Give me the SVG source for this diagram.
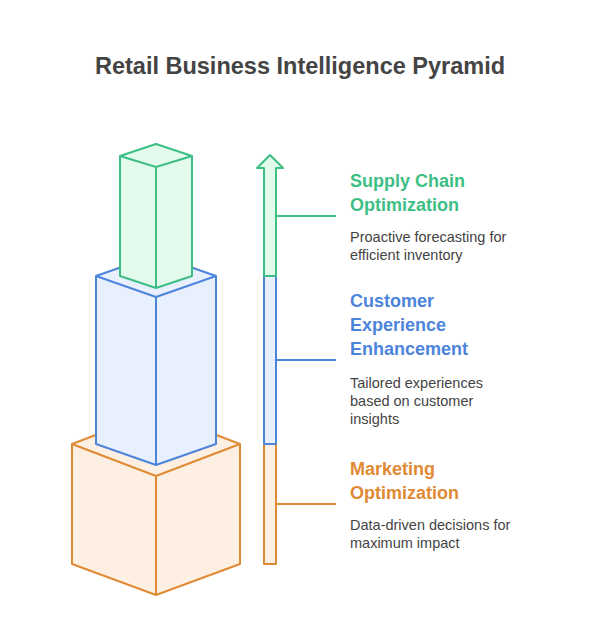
<svg xmlns="http://www.w3.org/2000/svg" width="600" height="631" viewBox="0 0 600 631">
<style>
.g{stroke:#3dbf84;fill:#e3fbec;stroke-width:2;stroke-linejoin:round}
.b{stroke:#4d84db;fill:#e8f0fd;stroke-width:2;stroke-linejoin:round}
.o{stroke:#e08a33;fill:#fdefe1;stroke-width:2;stroke-linejoin:round}
.t{font-family:"Liberation Sans",Arial,sans-serif}
.h{font-size:18px;font-weight:bold}
.d{font-size:14.5px;fill:#444}
</style>
<rect width="600" height="631" fill="#fff"/>
<text class="t" x="300" y="74" text-anchor="middle" font-size="23.5" font-weight="bold" fill="#444">Retail Business Intelligence Pyramid</text>
<g id="base">
<path class="o" d="M72,444 L156,412 L240,444 L240,564 L156,595 L72,564 Z"/>
<path class="o" d="M72,444 L156,476 L240,444 M156,476 L156,595" fill="none"/>
</g>
<g id="middle">
<path class="b" d="M96,276 L156,255 L216,276 L216,444 L156,465 L96,444 Z"/>
<path class="b" d="M96,276 L156,297 L216,276 M156,297 L156,465" fill="none"/>
</g>
<g id="top">
<path class="g" d="M120,156 L156,144 L192,156 L192,276 L156,288 L120,276 Z"/>
<path class="g" d="M120,156 L156,167 L192,156 M156,167 L156,288" fill="none"/>
</g>
<g id="connectors">
<path class="o" d="M264,444 H276 V564 H264 Z"/>
<path class="b" d="M264,276 H276 V444 H264 Z"/>
<path class="g" d="M264,276 V168 H257 L270,155 L283,168 H276 V276 Z"/>
<line x1="276" y1="216" x2="336" y2="216" stroke="#3dbf84" stroke-width="2"/>
<line x1="276" y1="360" x2="336" y2="360" stroke="#4d84db" stroke-width="2"/>
<line x1="276" y1="504" x2="336" y2="504" stroke="#e08a33" stroke-width="2"/>
</g>
<g id="label-supply" class="t">
<text class="h" x="350" y="187" fill="#3dbf84">Supply Chain</text>
<text class="h" x="350" y="211" fill="#3dbf84">Optimization</text>
<text class="d" x="350" y="242">Proactive forecasting for</text>
<text class="d" x="350" y="260">efficient inventory</text>
</g>
<g id="label-customer" class="t">
<text class="h" x="350" y="307" fill="#4d84db">Customer</text>
<text class="h" x="350" y="331" fill="#4d84db">Experience</text>
<text class="h" x="350" y="355" fill="#4d84db">Enhancement</text>
<text class="d" x="350" y="388">Tailored experiences</text>
<text class="d" x="350" y="406">based on customer</text>
<text class="d" x="350" y="424">insights</text>
</g>
<g id="label-marketing" class="t">
<text class="h" x="350" y="475" fill="#e08a33">Marketing</text>
<text class="h" x="350" y="499" fill="#e08a33">Optimization</text>
<text class="d" x="350" y="530">Data-driven decisions for</text>
<text class="d" x="350" y="548">maximum impact</text>
</g>
</svg>
